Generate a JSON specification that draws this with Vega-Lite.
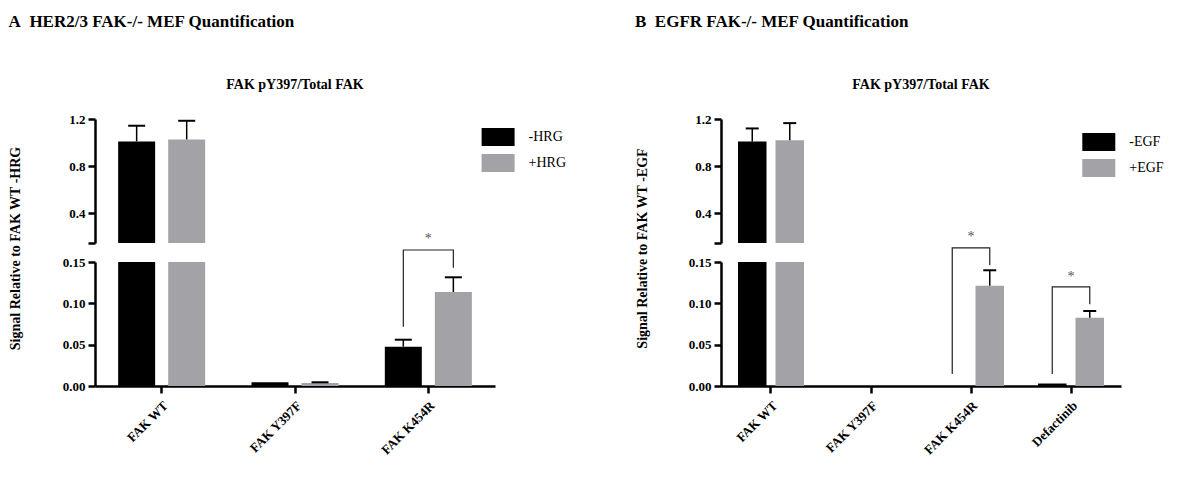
{
  "$schema": "https://vega.github.io/schema/vega-lite/v6.json",
  "padding": {"left": 8, "top": 13, "right": 5, "bottom": 5},
  "background": "white",
  "config": {
    "view": {"stroke": null},
    "font": "Liberation Serif",
    "axis": {"grid": false, "domainColor": "black", "domainWidth": 2.5, "tickColor": "black", "tickWidth": 2.5, "tickSize": 7, "labelFont": "Liberation Serif", "labelFontWeight": "bold", "labelFontSize": 13, "labelColor": "black", "labelPadding": 3, "titleFont": "Liberation Serif", "titleFontWeight": "bold", "titleFontSize": 14, "titleColor": "black"},
    "legend": {"labelFont": "Liberation Serif", "labelFontSize": 14, "labelColor": "black", "labelOffset": 14, "rowPadding": -2, "padding": 0, "symbolStrokeWidth": 0, "symbolOpacity": 1},
    "title": {"font": "Liberation Serif", "fontWeight": "bold", "color": "black"}
  },
  "datasets": {
    "a": [
      {"cat": "FAK WT", "cond": "-HRG", "value": 1.01, "hi": 1.143},
      {"cat": "FAK WT", "cond": "+HRG", "value": 1.027, "hi": 1.185},
      {"cat": "FAK Y397F", "cond": "-HRG", "value": 0.0045, "hi": null},
      {"cat": "FAK Y397F", "cond": "+HRG", "value": 0.0035, "hi": 0.0045},
      {"cat": "FAK K454R", "cond": "-HRG", "value": 0.0476, "hi": 0.056},
      {"cat": "FAK K454R", "cond": "+HRG", "value": 0.1137, "hi": 0.1315}
    ],
    "abr": [
      {"br": "a1", "seq": 1, "cat": "FAK K454R", "cond": "-HRG", "y": 0.0718},
      {"br": "a1", "seq": 2, "cat": "FAK K454R", "cond": "-HRG", "y": 0.1645},
      {"br": "a1", "seq": 3, "cat": "FAK K454R", "cond": "+HRG", "y": 0.1645},
      {"br": "a1", "seq": 4, "cat": "FAK K454R", "cond": "+HRG", "y": 0.143}
    ],
    "aast": [
      {"cat": "FAK K454R", "y": 0.178, "label": "*"}
    ],
    "b": [
      {"cat": "FAK WT", "cond": "-EGF", "value": 1.01, "hi": 1.12},
      {"cat": "FAK WT", "cond": "+EGF", "value": 1.02, "hi": 1.165},
      {"cat": "FAK Y397F", "cond": "-EGF", "value": 0, "hi": null},
      {"cat": "FAK Y397F", "cond": "+EGF", "value": 0, "hi": null},
      {"cat": "FAK K454R", "cond": "-EGF", "value": 0, "hi": null},
      {"cat": "FAK K454R", "cond": "+EGF", "value": 0.1213, "hi": 0.14},
      {"cat": "Defactinib", "cond": "-EGF", "value": 0.003, "hi": null},
      {"cat": "Defactinib", "cond": "+EGF", "value": 0.0826, "hi": 0.0907}
    ],
    "bbr": [
      {"br": "b1", "seq": 1, "cat": "FAK K454R", "cond": "-EGF", "y": 0.0145},
      {"br": "b1", "seq": 2, "cat": "FAK K454R", "cond": "-EGF", "y": 0.167},
      {"br": "b1", "seq": 3, "cat": "FAK K454R", "cond": "+EGF", "y": 0.167},
      {"br": "b1", "seq": 4, "cat": "FAK K454R", "cond": "+EGF", "y": 0.146},
      {"br": "b2", "seq": 1, "cat": "Defactinib", "cond": "-EGF", "y": 0.0145},
      {"br": "b2", "seq": 2, "cat": "Defactinib", "cond": "-EGF", "y": 0.12},
      {"br": "b2", "seq": 3, "cat": "Defactinib", "cond": "+EGF", "y": 0.12},
      {"br": "b2", "seq": 4, "cat": "Defactinib", "cond": "+EGF", "y": 0.0988}
    ],
    "bast": [
      {"cat": "FAK K454R", "y": 0.18, "label": "*"},
      {"cat": "Defactinib", "y": 0.132, "label": "*"}
    ]
  },
  "hconcat": [
    {
      "title": {"text": "A\u00a0 HER2/3 FAK-/- MEF Quantification", "anchor": "start", "frame": "bounds", "fontSize": 17, "offset": 47},
      "spacing": 19,
      "bounds": "flush",
      "resolve": {"scale": {"color": "independent", "xOffset": "independent"}, "legend": {"color": "independent"}},
      "vconcat": [
        {
          "width": 400, "height": 124,
          "title": {"text": "FAK pY397/Total FAK", "fontSize": 14, "offset": 21},
          "data": {"name": "a"},
          "layer": [
            {
              "mark": {"type": "bar", "clip": true, "width": 37},
              "encoding": {
                "x": {"field": "cat", "type": "nominal", "sort": ["FAK WT", "FAK Y397F", "FAK K454R"], "axis": null, "scale": {"paddingInner": 0.347, "paddingOuter": 0.1735}},
                "xOffset": {"field": "cond", "sort": ["-HRG", "+HRG"], "scale": {"paddingInner": 0.26, "paddingOuter": 0}},
                "y": {"field": "value", "type": "quantitative", "scale": {"domain": [0.15, 1.2], "zero": false, "nice": false}, "axis": {"values": [0.15, 0.4, 0.8, 1.2], "labelExpr": "datum.value < 0.3 ? '' : format(datum.value, '.1f')", "title": null}},
                "y2": {"datum": 0},
                "color": {"field": "cond", "type": "nominal", "sort": ["-HRG", "+HRG"], "scale": {"range": ["#000000", "#a3a2a7"]}, "legend": {"title": null, "orient": "none", "legendX": 386.6, "legendY": 1.5, "symbolType": "M-1,-0.545L1,-0.545L1,0.545L-1,0.545Z", "symbolSize": 1089}}
              }
            },
            {
              "transform": [{"filter": "isValid(datum.hi)"}],
              "mark": {"type": "rule", "clip": true, "strokeWidth": 1.5, "color": "black"},
              "encoding": {
                "x": {"field": "cat", "type": "nominal", "sort": ["FAK WT", "FAK Y397F", "FAK K454R"]},
                "xOffset": {"field": "cond", "sort": ["-HRG", "+HRG"]},
                "y": {"field": "value", "type": "quantitative", "scale": {"domain": [0.15, 1.2], "zero": false, "nice": false}},
                "y2": {"field": "hi"}
              }
            },
            {
              "transform": [{"filter": "isValid(datum.hi)"}],
              "mark": {"type": "tick", "clip": true, "color": "black", "thickness": 2, "size": 17, "opacity": 1},
              "encoding": {
                "x": {"field": "cat", "type": "nominal", "sort": ["FAK WT", "FAK Y397F", "FAK K454R"]},
                "xOffset": {"field": "cond", "sort": ["-HRG", "+HRG"]},
                "y": {"field": "hi", "type": "quantitative", "scale": {"domain": [0.15, 1.2], "zero": false, "nice": false}}
              }
            }
          ]
        },
        {
          "width": 400, "height": 124,
          "data": {"name": "a"},
          "layer": [
            {
              "mark": {"type": "bar", "clip": true, "width": 37},
              "encoding": {
                "x": {"field": "cat", "type": "nominal", "sort": ["FAK WT", "FAK Y397F", "FAK K454R"], "axis": {"title": null, "labelAngle": -45, "labelFontSize": 13, "labelPadding": 6}, "scale": {"paddingInner": 0.347, "paddingOuter": 0.1735}},
                "xOffset": {"field": "cond", "sort": ["-HRG", "+HRG"], "scale": {"paddingInner": 0.26, "paddingOuter": 0}},
                "y": {"field": "value", "type": "quantitative", "scale": {"domain": [0, 0.15], "nice": false}, "axis": {"values": [0, 0.05, 0.1, 0.15], "format": ".2f", "title": "Signal Relative to FAK WT -HRG", "titleX": -79.4, "titleY": -14, "titleAngle": 270, "titleAlign": "center", "titleBaseline": "middle"}},
                "y2": {"datum": 0},
                "color": {"field": "cond", "type": "nominal", "sort": ["-HRG", "+HRG"], "scale": {"range": ["#000000", "#a3a2a7"]}, "legend": null}
              }
            },
            {
              "transform": [{"filter": "isValid(datum.hi)"}],
              "mark": {"type": "rule", "clip": true, "strokeWidth": 1.5, "color": "black"},
              "encoding": {
                "x": {"field": "cat", "type": "nominal", "sort": ["FAK WT", "FAK Y397F", "FAK K454R"]},
                "xOffset": {"field": "cond", "sort": ["-HRG", "+HRG"]},
                "y": {"field": "value", "type": "quantitative", "scale": {"domain": [0, 0.15], "nice": false}},
                "y2": {"field": "hi"}
              }
            },
            {
              "transform": [{"filter": "isValid(datum.hi)"}],
              "mark": {"type": "tick", "clip": true, "color": "black", "thickness": 2, "size": 17, "opacity": 1},
              "encoding": {
                "x": {"field": "cat", "type": "nominal", "sort": ["FAK WT", "FAK Y397F", "FAK K454R"]},
                "xOffset": {"field": "cond", "sort": ["-HRG", "+HRG"]},
                "y": {"field": "hi", "type": "quantitative", "scale": {"domain": [0, 0.15], "nice": false}}
              }
            },
            {
              "data": {"name": "abr"},
              "mark": {"type": "line", "clip": false, "color": "#222222", "strokeWidth": 1.2},
              "encoding": {
                "x": {"field": "cat", "type": "nominal", "sort": ["FAK WT", "FAK Y397F", "FAK K454R"]},
                "xOffset": {"field": "cond", "sort": ["-HRG", "+HRG"]},
                "y": {"field": "y", "type": "quantitative", "scale": {"domain": [0, 0.15], "nice": false}},
                "detail": {"field": "br"},
                "order": {"field": "seq"}
              }
            },
            {
              "data": {"name": "aast"},
              "mark": {"type": "text", "clip": false, "fill": "#555555", "fontSize": 14, "baseline": "middle", "font": "Liberation Serif"},
              "encoding": {
                "x": {"field": "cat", "type": "nominal", "sort": ["FAK WT", "FAK Y397F", "FAK K454R"]},
                "y": {"field": "y", "type": "quantitative", "scale": {"domain": [0, 0.15], "nice": false}},
                "text": {"field": "label"}
              }
            }
          ]
        }
      ]
    },
    {
      "title": {"text": "B\u00a0 EGFR FAK-/- MEF Quantification", "anchor": "start", "frame": "bounds", "fontSize": 17, "offset": 47},
      "spacing": 19,
      "bounds": "flush",
      "resolve": {"scale": {"color": "independent", "xOffset": "independent"}, "legend": {"color": "independent"}},
      "vconcat": [
        {
          "width": 400, "height": 124,
          "title": {"text": "FAK pY397/Total FAK", "fontSize": 14, "offset": 21},
          "data": {"name": "b"},
          "layer": [
            {
              "mark": {"type": "bar", "clip": true, "width": 28.5},
              "encoding": {
                "x": {"field": "cat", "type": "nominal", "sort": ["FAK WT", "FAK Y397F", "FAK K454R", "Defactinib"], "axis": null, "scale": {"paddingInner": 0.34, "paddingOuter": 0.17}},
                "xOffset": {"field": "cond", "sort": ["-EGF", "+EGF"], "scale": {"paddingInner": 0.24, "paddingOuter": 0}},
                "y": {"field": "value", "type": "quantitative", "scale": {"domain": [0.15, 1.2], "zero": false, "nice": false}, "axis": {"values": [0.15, 0.4, 0.8, 1.2], "labelExpr": "datum.value < 0.3 ? '' : format(datum.value, '.1f')", "title": null}},
                "y2": {"datum": 0},
                "color": {"field": "cond", "type": "nominal", "sort": ["-EGF", "+EGF"], "scale": {"range": ["#000000", "#a3a2a7"]}, "legend": {"title": null, "orient": "none", "legendX": 361.3, "legendY": 6.5, "symbolType": "M-1,-0.545L1,-0.545L1,0.545L-1,0.545Z", "symbolSize": 1089}}
              }
            },
            {
              "transform": [{"filter": "isValid(datum.hi)"}],
              "mark": {"type": "rule", "clip": true, "strokeWidth": 1.5, "color": "black"},
              "encoding": {
                "x": {"field": "cat", "type": "nominal", "sort": ["FAK WT", "FAK Y397F", "FAK K454R", "Defactinib"]},
                "xOffset": {"field": "cond", "sort": ["-EGF", "+EGF"]},
                "y": {"field": "value", "type": "quantitative", "scale": {"domain": [0.15, 1.2], "zero": false, "nice": false}},
                "y2": {"field": "hi"}
              }
            },
            {
              "transform": [{"filter": "isValid(datum.hi)"}],
              "mark": {"type": "tick", "clip": true, "color": "black", "thickness": 2, "size": 13, "opacity": 1},
              "encoding": {
                "x": {"field": "cat", "type": "nominal", "sort": ["FAK WT", "FAK Y397F", "FAK K454R", "Defactinib"]},
                "xOffset": {"field": "cond", "sort": ["-EGF", "+EGF"]},
                "y": {"field": "hi", "type": "quantitative", "scale": {"domain": [0.15, 1.2], "zero": false, "nice": false}}
              }
            }
          ]
        },
        {
          "width": 400, "height": 124,
          "data": {"name": "b"},
          "layer": [
            {
              "mark": {"type": "bar", "clip": true, "width": 28.5},
              "encoding": {
                "x": {"field": "cat", "type": "nominal", "sort": ["FAK WT", "FAK Y397F", "FAK K454R", "Defactinib"], "axis": {"title": null, "labelAngle": -45, "labelFontSize": 13, "labelPadding": 6}, "scale": {"paddingInner": 0.34, "paddingOuter": 0.17}},
                "xOffset": {"field": "cond", "sort": ["-EGF", "+EGF"], "scale": {"paddingInner": 0.24, "paddingOuter": 0}},
                "y": {"field": "value", "type": "quantitative", "scale": {"domain": [0, 0.15], "nice": false}, "axis": {"values": [0, 0.05, 0.1, 0.15], "format": ".2f", "title": "Signal Relative to FAK WT -EGF", "titleX": -79, "titleY": -14, "titleAngle": 270, "titleAlign": "center", "titleBaseline": "middle"}},
                "y2": {"datum": 0},
                "color": {"field": "cond", "type": "nominal", "sort": ["-EGF", "+EGF"], "scale": {"range": ["#000000", "#a3a2a7"]}, "legend": null}
              }
            },
            {
              "transform": [{"filter": "isValid(datum.hi)"}],
              "mark": {"type": "rule", "clip": true, "strokeWidth": 1.5, "color": "black"},
              "encoding": {
                "x": {"field": "cat", "type": "nominal", "sort": ["FAK WT", "FAK Y397F", "FAK K454R", "Defactinib"]},
                "xOffset": {"field": "cond", "sort": ["-EGF", "+EGF"]},
                "y": {"field": "value", "type": "quantitative", "scale": {"domain": [0, 0.15], "nice": false}},
                "y2": {"field": "hi"}
              }
            },
            {
              "transform": [{"filter": "isValid(datum.hi)"}],
              "mark": {"type": "tick", "clip": true, "color": "black", "thickness": 2, "size": 13, "opacity": 1},
              "encoding": {
                "x": {"field": "cat", "type": "nominal", "sort": ["FAK WT", "FAK Y397F", "FAK K454R", "Defactinib"]},
                "xOffset": {"field": "cond", "sort": ["-EGF", "+EGF"]},
                "y": {"field": "hi", "type": "quantitative", "scale": {"domain": [0, 0.15], "nice": false}}
              }
            },
            {
              "data": {"name": "bbr"},
              "mark": {"type": "line", "clip": false, "color": "#222222", "strokeWidth": 1.2},
              "encoding": {
                "x": {"field": "cat", "type": "nominal", "sort": ["FAK WT", "FAK Y397F", "FAK K454R", "Defactinib"]},
                "xOffset": {"field": "cond", "sort": ["-EGF", "+EGF"]},
                "y": {"field": "y", "type": "quantitative", "scale": {"domain": [0, 0.15], "nice": false}},
                "detail": {"field": "br"},
                "order": {"field": "seq"}
              }
            },
            {
              "data": {"name": "bast"},
              "mark": {"type": "text", "clip": false, "fill": "#555555", "fontSize": 14, "baseline": "middle", "font": "Liberation Serif"},
              "encoding": {
                "x": {"field": "cat", "type": "nominal", "sort": ["FAK WT", "FAK Y397F", "FAK K454R", "Defactinib"]},
                "y": {"field": "y", "type": "quantitative", "scale": {"domain": [0, 0.15], "nice": false}},
                "text": {"field": "label"}
              }
            }
          ]
        }
      ]
    }
  ],
  "spacing": 67,
  "resolve": {"scale": {"color": "independent", "xOffset": "independent"}, "legend": {"color": "independent"}}
}
